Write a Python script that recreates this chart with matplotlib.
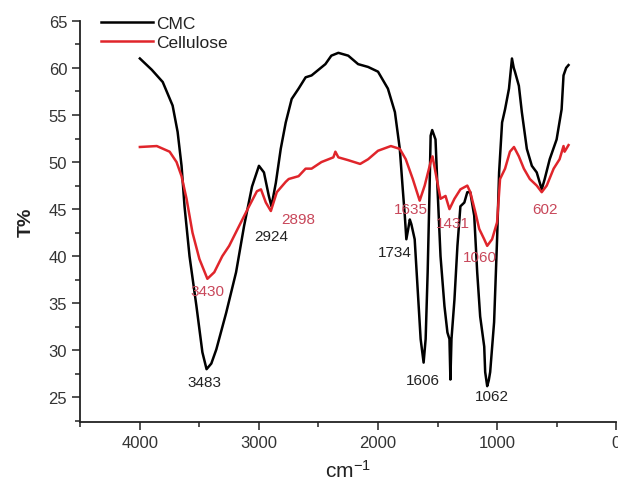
import numpy as np
import matplotlib.pyplot as plt
from matplotlib.ticker import MultipleLocator

plt.rcParams['font.family'] = ['Liberation Sans', 'DejaVu Sans']
plt.rcParams['mathtext.default'] = 'regular'

# CMC spectrum (wavenumber, T%)
cmc_wn = [4000, 3975, 3900, 3808, 3725, 3683, 3650, 3625, 3583, 3525, 3475, 3440,
          3400, 3358, 3275, 3192, 3125, 3058, 3000, 2958, 2917, 2895, 2858, 2817,
          2775, 2725, 2667, 2608, 2558, 2500, 2442, 2392, 2333, 2250, 2167, 2083,
          2000, 1917, 1858, 1817, 1792, 1775, 1762, 1745, 1733, 1720, 1692, 1667,
          1642, 1617, 1600, 1583, 1567, 1558, 1545, 1517, 1500, 1475, 1442, 1417,
          1400, 1392, 1383, 1358, 1333, 1308, 1275, 1250, 1225, 1192, 1167, 1142,
          1108, 1100, 1083, 1070, 1058, 1025, 1000, 983, 958, 933, 900, 875, 860,
          850, 817, 792, 750, 708, 667, 625, 600, 558, 500, 458, 442, 420, 400]
cmc_t = [61.0, 60.7, 59.8, 58.5, 56.0, 53.2, 49.6, 45.3, 40.0, 34.7, 29.8, 28.0,
         28.6, 30.1, 34.0, 38.3, 43.2, 47.4, 49.6, 48.9, 46.4, 45.3, 47.8, 51.4,
         54.2, 56.7, 57.8, 59.0, 59.2, 59.8, 60.4, 61.3, 61.6, 61.3, 60.4, 60.1,
         59.6, 57.8, 55.3, 51.4, 47.1, 44.3, 41.8, 43.0, 43.9, 43.4, 41.8, 36.5,
         31.2, 28.7, 31.2, 38.3, 47.1, 52.8, 53.4, 52.4, 47.1, 40.0, 34.7, 31.9,
         31.2, 26.9, 31.2, 35.4, 41.1, 45.3, 45.7, 46.8, 46.8, 44.3, 38.3, 33.6,
         30.4, 27.7, 26.2, 26.8, 27.7, 33.0, 41.8, 48.9, 54.2, 55.6, 57.8, 61.0,
         60.0, 59.6, 58.1, 55.3, 51.4, 49.6, 48.9, 47.1, 48.2, 50.3, 52.4, 55.6,
         59.2, 60.0, 60.3]

# Cellulose spectrum (wavenumber, T%)
cel_wn = [4000, 3858, 3750, 3692, 3650, 3608, 3558, 3500, 3433, 3375, 3308, 3250,
          3167, 3083, 3017, 2983, 2942, 2900, 2850, 2775, 2750, 2667, 2608, 2558,
          2475, 2375, 2358, 2333, 2250, 2150, 2083, 2000, 1892, 1817, 1767, 1708,
          1650, 1608, 1558, 1542, 1517, 1475, 1433, 1400, 1358, 1308, 1250, 1225,
          1183, 1150, 1108, 1083, 1042, 1000, 975, 933, 892, 858, 817, 775, 725,
          667, 625, 583, 525, 475, 442, 433, 400]
cel_t = [51.6, 51.7, 51.1, 50.0, 48.5, 46.1, 42.5, 39.7, 37.6, 38.3, 40.0, 41.1,
         43.2, 45.3, 46.9, 47.1, 45.7, 44.8, 46.8, 47.9, 48.2, 48.5, 49.3, 49.3,
         50.0, 50.5, 51.1, 50.5, 50.2, 49.8, 50.3, 51.2, 51.7, 51.4, 50.3, 48.2,
         45.9, 47.5, 50.0, 50.6, 48.9, 46.1, 46.4, 45.0, 46.1, 47.1, 47.5, 46.8,
         44.7, 42.9, 41.8, 41.1, 41.8, 43.6, 48.2, 49.3, 51.1, 51.6, 50.6, 49.3,
         48.2, 47.5, 46.8, 47.5, 49.3, 50.3, 51.7, 51.1, 51.8]

# peak labels: (text, x, y, colour)
peak_labels = [("3483", 3458, 26.6, '#222222'), ("3430", 3433, 36.3, '#c8475a'),
               ("2924", 2900, 42.1, '#222222'), ("2898", 2667, 44.0, '#c8475a'),
               ("1734", 1858, 40.4, '#222222'), ("1635", 1725, 45.0, '#c8475a'),
               ("1431", 1375, 43.5, '#c8475a'), ("1606", 1625, 26.9, '#222222'),
               ("1060", 1142, 39.9, '#c8475a'), ("1062", 1042, 25.1, '#222222'),
               ("602", 600, 45.0, '#c8475a')]

fig = plt.figure(figsize=(6.18, 4.85), dpi=100)
ax = fig.add_axes([0.130, 0.128, 0.867, 0.827])

ax.plot(cmc_wn, cmc_t, color='black', lw=1.8, label='CMC')
ax.plot(cel_wn, cel_t, color='#e0252b', lw=1.8, label='Cellulose')

for txt, x, y, c in peak_labels:
    ax.text(x, y, txt, color=c, fontsize=11, ha='center', va='center')

ax.set_xlim(4500, 0)
ax.set_ylim(22.4, 65)
ax.xaxis.set_major_locator(MultipleLocator(1000))
ax.xaxis.set_minor_locator(MultipleLocator(500))
ax.yaxis.set_major_locator(MultipleLocator(5))
ax.yaxis.set_minor_locator(MultipleLocator(2.5))
ax.tick_params(which='major', length=6, width=1.2, labelsize=12, colors='#333333')
ax.tick_params(which='minor', length=3.5, width=1.2, colors='#333333')
for s in ['top', 'right']:
    ax.spines[s].set_visible(False)
for s in ['left', 'bottom']:
    ax.spines[s].set_linewidth(1.3)
    ax.spines[s].set_color('#222222')

ax.set_ylabel('T%', fontsize=14, fontweight='bold', color='#222222', labelpad=10)
ax.set_xlabel('cm$^{-1}$', fontsize=15, color='#222222', labelpad=6)
ax.legend(loc='upper left', bbox_to_anchor=(0.01, 1.052), frameon=False,
          fontsize=12.5, handlelength=3.0, handletextpad=0.15, labelspacing=0.25,
          labelcolor='#222222')

fig.savefig('out.png', dpi=100)
